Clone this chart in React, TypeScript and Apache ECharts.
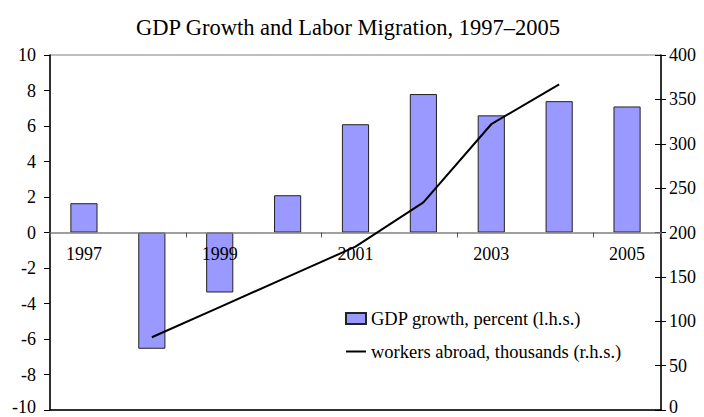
import React, { useEffect, useRef } from "react";
import * as echarts from "echarts";

const years = ["1997", "1998", "1999", "2000", "2001", "2002", "2003", "2004", "2005"];
const gdpGrowth = [1.65, -6.55, -3.38, 2.1, 6.1, 7.8, 6.6, 7.4, 7.1];
const workersAbroad: (number | null)[] = [null, 82, 116, 150, 184, 234, 322, 367, null];
const leftTicks = { min: -10, max: 10, interval: 2 };
const rightTicks = { min: 0, max: 400, interval: 50 };
const titleText = "GDP Growth and Labor Migration, 1997\u20132005";
const gdpName = "GDP growth, percent (l.h.s.)";
const workersName = "workers abroad, thousands (r.h.s.)";

const FONT = '"Liberation Serif", "Times New Roman", serif';

const W = 704;
const H = 417;
const GRID = { left: 50, right: 43, top: 55, bottom: 7 };

const edgeRich = {
  edge: { fontFamily: FONT, fontSize: 18, color: "#000", padding: [0, 0, 7, 0] },
};

function yLabel(min: number) {
  return (v: number) => (v === min ? `{edge|${v}}` : `${v}`);
}

export default function App() {
  const ref = useRef<HTMLDivElement>(null);
  useEffect(() => {
    if (!ref.current) return;
    const chart = echarts.init(ref.current, undefined, { renderer: "svg" });
    const gridH = H - GRID.top - GRID.bottom;
    const zeroOffset = -gridH * (leftTicks.max / (leftTicks.max - leftTicks.min));
    chart.setOption({
      animation: false,
      backgroundColor: "#ffffff",
      textStyle: { fontFamily: FONT, color: "#000" },
      title: {
        text: titleText,
        left: 343,
        top: 11,
        textAlign: "center",
        textStyle: { fontFamily: FONT, fontSize: 22.5, fontWeight: "normal", color: "#000" },
      },
      legend: {
        orient: "vertical",
        left: 340,
        top: 304,
        itemWidth: 20,
        itemHeight: 11,
        itemGap: 14,
        symbolKeepAspect: true,
        textStyle: { fontFamily: FONT, fontSize: 18.5, color: "#000" },
        data: [
          { name: gdpName, icon: "rect" },
          { name: workersName, icon: "path://M0,0H20V2H0Z" },
        ],
      },
      grid: {
        left: GRID.left,
        right: GRID.right,
        top: GRID.top,
        bottom: GRID.bottom,
        containLabel: false,
        outerBoundsMode: "none",
        show: true,
        borderColor: "#808080",
        borderWidth: 1,
      },
      xAxis: [
        {
          type: "category",
          data: years,
          position: "top",
          offset: zeroOffset,
          z: 5,
          boundaryGap: true,
          axisLine: { onZero: false, lineStyle: { color: "#808080", width: 1.5 } },
          axisTick: { show: true, inside: true, length: 5, lineStyle: { color: "#555" } },
          axisLabel: {
            inside: true,
            interval: 1,
            margin: 12,
            fontFamily: FONT,
            fontSize: 18,
            color: "#000",
          },
          splitLine: { show: false },
        },
        {
          type: "category",
          data: years,
          position: "bottom",
          axisLine: { onZero: false, lineStyle: { color: "#000", width: 1.5 } },
          axisTick: { show: false },
          axisLabel: { show: false },
          splitLine: { show: false },
        },
      ],
      yAxis: [
        {
          type: "value",
          position: "left",
          min: leftTicks.min,
          max: leftTicks.max,
          interval: leftTicks.interval,
          axisLine: { show: true, lineStyle: { color: "#000", width: 1.5 } },
          axisTick: { show: true, length: 6, lineStyle: { color: "#000" } },
          axisLabel: {
            margin: 14,
            fontFamily: FONT,
            fontSize: 18,
            color: "#000",
            formatter: yLabel(leftTicks.min),
            rich: edgeRich,
          },
          splitLine: { show: false },
        },
        {
          type: "value",
          position: "right",
          min: rightTicks.min,
          max: rightTicks.max,
          interval: rightTicks.interval,
          axisLine: { show: true, lineStyle: { color: "#000", width: 1.5 } },
          axisTick: { show: true, length: 5, lineStyle: { color: "#000" } },
          axisLabel: {
            margin: 8,
            fontFamily: FONT,
            fontSize: 18,
            color: "#000",
            formatter: yLabel(rightTicks.min),
            rich: edgeRich,
          },
          splitLine: { show: false },
        },
        {
          type: "value",
          position: "right",
          min: rightTicks.min,
          max: rightTicks.max,
          interval: rightTicks.interval,
          axisLine: { show: false },
          axisTick: { show: true, inside: true, length: 6, lineStyle: { color: "#000" } },
          axisLabel: { show: false },
          splitLine: { show: false },
        },
      ],
      series: [
        {
          name: gdpName,
          type: "bar",
          xAxisIndex: 0,
          yAxisIndex: 0,
          data: gdpGrowth,
          barWidth: "40%",
          z: 2,
          itemStyle: { color: "#9999ff", borderColor: "#222", borderWidth: 1 },
        },
        {
          name: workersName,
          type: "line",
          xAxisIndex: 0,
          yAxisIndex: 1,
          data: workersAbroad,
          symbol: "none",
          connectNulls: false,
          z: 6,
          lineStyle: { color: "#000", width: 2 },
          itemStyle: { color: "#000" },
        },
      ],
    });
    return () => chart.dispose();
  }, []);
  return (
    <div
      ref={ref}
      style={{ position: "fixed", left: 0, top: 0, width: W, height: H, background: "#fff" }}
    />
  );
}
